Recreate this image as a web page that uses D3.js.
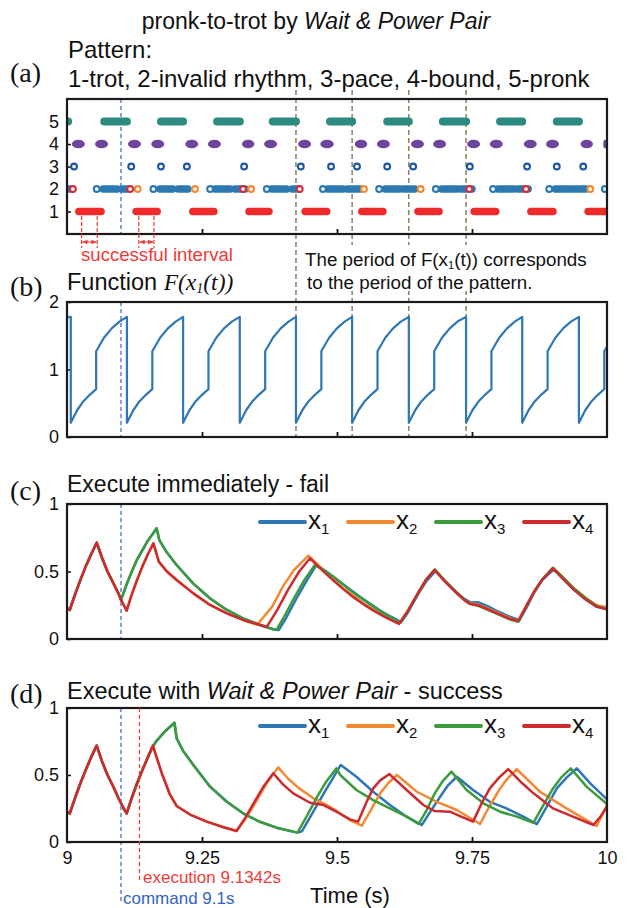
<!DOCTYPE html>
<html>
<head>
<meta charset="utf-8">
<script src="https://cdn.jsdelivr.net/npm/d3@7"></script>
<style>
  body { margin: 0; background: #fff; }
  svg { display: block; }
  text { font-family: "Liberation Sans", Arial, sans-serif; fill: #111; }
</style>
</head>
<body>
<svg id="chart" width="632" height="908"></svg>
<script>
// ---------- shared axis values ----------
const timeDomain = [9, 10];
const timeTicks = [9, 9.25, 9.5, 9.75, 10];
const timeTickLabels = ["9", "9.25", "9.5", "9.75", "10"];
const patternTicks = [1, 2, 3, 4, 5];
const functionTicks = [0, 1, 2];
const stateTicks = [0, 0.5, 1];
const stateTickLabels = ["0", "0.5", "1"];

const commandTime = 9.1;
const executionTime = 9.1342;
const patternPeriodTimes = [9.424, 9.528, 9.633, 9.739];
const successfulIntervals = [[9.027, 9.056], [9.133, 9.161]];

// ---------- (a) gait pattern ----------
const trotBars = [[9.022, 9.063], [9.128, 9.167], [9.233, 9.272], [9.337, 9.374], [9.441, 9.481],
                  [9.546, 9.585], [9.650, 9.689], [9.754, 9.794], [9.859, 9.900], [9.965, 10.0]];
const pronkBars = [[9.0, 9.002], [9.069, 9.111], [9.174, 9.215], [9.278, 9.320], [9.381, 9.424],
                   [9.487, 9.528], [9.593, 9.633], [9.696, 9.739], [9.802, 9.843], [9.907, 9.948]];
const boundBlobs = [[9.009, 9.033], [9.052, 9.076], [9.113, 9.137], [9.156, 9.180], [9.219, 9.243],
                    [9.261, 9.285], [9.324, 9.347], [9.365, 9.389], [9.428, 9.452], [9.469, 9.494],
                    [9.533, 9.556], [9.574, 9.598], [9.637, 9.661], [9.678, 9.702], [9.741, 9.765],
                    [9.783, 9.807], [9.846, 9.870], [9.887, 9.911], [9.951, 9.974], [9.993, 10.0]];
const paceMarks = [9.013, 9.119, 9.174, 9.222, 9.328, 9.433, 9.489, 9.537, 9.593, 9.641,
                   9.746, 9.852, 9.907, 9.956];
const invalidBlobs = [[9.0, 9.009], [9.067, 9.093], [9.102, 9.113], [9.172, 9.196], [9.206, 9.224],
                      [9.274, 9.302], [9.311, 9.330], [9.379, 9.407], [9.417, 9.428], [9.483, 9.511],
                      [9.519, 9.543], [9.589, 9.617], [9.624, 9.644], [9.694, 9.722], [9.729, 9.750],
                      [9.798, 9.826], [9.833, 9.854], [9.904, 9.931], [9.937, 9.961]];
const invalidBlueMarks = [9.055, 9.160, 9.265, 9.370, 9.474, 9.578, 9.683, 9.789, 9.893, 9.996];
const invalidOrangeMarks = [9.131, 9.237, 9.341, 9.550, 9.655, 9.969];
const invalidRedMarks = [9.011, 9.117, 9.326, 9.431, 9.745, 9.850];

// ---------- (b) F(x1(t)) ----------
const fDropTimes = [9.007, 9.111, 9.215, 9.320, 9.424, 9.528, 9.633, 9.739, 9.843, 9.948];
const fCyclePhase = [0, 0.012, 0.0235, 0.035, 0.047, 0.047, 0.0614, 0.0758, 0.0902];
const fCycleValue = [0.21, 0.40, 0.53, 0.625, 0.71, 1.27, 1.47, 1.61, 1.71];
const fPeakValue = 1.78;

// ---------- (c) execute immediately ----------
const immShared = [[9.000, 0.23], [9.005, 0.215], [9.015, 0.33], [9.025, 0.44], [9.035, 0.54],
                   [9.045, 0.63], [9.055, 0.713], [9.065, 0.60], [9.075, 0.50], [9.085, 0.42],
                   [9.095, 0.34], [9.100, 0.29]];
const immX1 = [[9.110, 0.40], [9.120, 0.50], [9.130, 0.59], [9.140, 0.66], [9.150, 0.73], [9.160, 0.785],
               [9.166, 0.82], [9.171, 0.733], [9.185, 0.64], [9.203, 0.548], [9.234, 0.41], [9.265, 0.30],
               [9.296, 0.215], [9.326, 0.153], [9.357, 0.104], [9.382, 0.072], [9.392, 0.066], [9.405, 0.15],
               [9.425, 0.30], [9.445, 0.44], [9.462, 0.55], [9.480, 0.50], [9.500, 0.44], [9.520, 0.38],
               [9.540, 0.32], [9.560, 0.265], [9.580, 0.21], [9.600, 0.165], [9.619, 0.125], [9.632, 0.20],
               [9.650, 0.33], [9.666, 0.43], [9.683, 0.505], [9.700, 0.43], [9.720, 0.35], [9.735, 0.30],
               [9.748, 0.27], [9.762, 0.272], [9.778, 0.245], [9.800, 0.20], [9.820, 0.165], [9.838, 0.14],
               [9.852, 0.24], [9.866, 0.35], [9.881, 0.44], [9.901, 0.515], [9.920, 0.44], [9.940, 0.36],
               [9.960, 0.295], [9.981, 0.238], [10.0, 0.222]];
const immX2 = [[9.1105, 0.21], [9.120, 0.33], [9.130, 0.44], [9.140, 0.54], [9.150, 0.63], [9.160, 0.709],
               [9.170, 0.573], [9.185, 0.50], [9.203, 0.437], [9.234, 0.338], [9.265, 0.252], [9.296, 0.19],
               [9.326, 0.141], [9.352, 0.105], [9.380, 0.24], [9.400, 0.39], [9.420, 0.51], [9.447, 0.617],
               [9.470, 0.53], [9.490, 0.45], [9.510, 0.38], [9.530, 0.32], [9.550, 0.26], [9.570, 0.21],
               [9.590, 0.165], [9.615, 0.115], [9.630, 0.20], [9.650, 0.34], [9.665, 0.44], [9.681, 0.515],
               [9.700, 0.43], [9.720, 0.35], [9.735, 0.295], [9.746, 0.265], [9.762, 0.255], [9.780, 0.225],
               [9.800, 0.19], [9.820, 0.155], [9.835, 0.135], [9.850, 0.24], [9.865, 0.35], [9.880, 0.44],
               [9.899, 0.525], [9.920, 0.45], [9.940, 0.37], [9.960, 0.305], [9.981, 0.25], [10.0, 0.235]];
const immX3 = [[9.110, 0.40], [9.120, 0.50], [9.130, 0.59], [9.140, 0.66], [9.150, 0.73], [9.160, 0.785],
               [9.166, 0.82], [9.171, 0.733], [9.185, 0.64], [9.203, 0.548], [9.234, 0.41], [9.265, 0.30],
               [9.296, 0.215], [9.326, 0.153], [9.357, 0.104], [9.382, 0.072], [9.388, 0.068], [9.400, 0.15],
               [9.420, 0.30], [9.440, 0.44], [9.459, 0.548], [9.480, 0.50], [9.500, 0.44], [9.520, 0.375],
               [9.540, 0.315], [9.560, 0.26], [9.580, 0.205], [9.600, 0.16], [9.617, 0.12], [9.630, 0.20],
               [9.650, 0.34], [9.665, 0.44], [9.681, 0.515], [9.700, 0.43], [9.720, 0.35], [9.735, 0.295],
               [9.746, 0.262], [9.762, 0.245], [9.780, 0.215], [9.800, 0.18], [9.820, 0.145], [9.836, 0.128],
               [9.850, 0.24], [9.865, 0.35], [9.880, 0.44], [9.900, 0.528], [9.920, 0.45], [9.940, 0.37],
               [9.960, 0.305], [9.981, 0.245], [10.0, 0.22]];
const immX4 = [[9.1105, 0.21], [9.120, 0.33], [9.130, 0.44], [9.140, 0.54], [9.150, 0.63], [9.160, 0.709],
               [9.170, 0.573], [9.185, 0.50], [9.203, 0.437], [9.234, 0.338], [9.265, 0.252], [9.296, 0.19],
               [9.326, 0.141], [9.357, 0.105], [9.370, 0.09], [9.390, 0.22], [9.410, 0.37], [9.430, 0.50],
               [9.450, 0.598], [9.470, 0.52], [9.490, 0.445], [9.510, 0.375], [9.530, 0.31], [9.550, 0.255],
               [9.570, 0.205], [9.590, 0.16], [9.615, 0.112], [9.630, 0.20], [9.650, 0.34], [9.665, 0.44],
               [9.681, 0.51], [9.700, 0.425], [9.720, 0.345], [9.735, 0.29], [9.746, 0.26], [9.762, 0.25],
               [9.780, 0.22], [9.800, 0.185], [9.820, 0.15], [9.836, 0.135], [9.850, 0.24], [9.865, 0.35],
               [9.880, 0.44], [9.900, 0.523], [9.920, 0.44], [9.940, 0.36], [9.960, 0.295], [9.981, 0.24],
               [10.0, 0.22]];

// ---------- (d) execute with Wait & Power Pair ----------
const waitShared = [[9.000, 0.226], [9.005, 0.212], [9.015, 0.33], [9.025, 0.44], [9.035, 0.54],
                    [9.045, 0.635], [9.055, 0.719], [9.065, 0.60], [9.075, 0.50], [9.085, 0.42],
                    [9.095, 0.33], [9.105, 0.25], [9.1105, 0.214], [9.120, 0.33], [9.130, 0.44],
                    [9.140, 0.54], [9.150, 0.635], [9.157, 0.70]];
const waitX1 = [[9.165, 0.75], [9.180, 0.82], [9.199, 0.89], [9.203, 0.774], [9.215, 0.68], [9.234, 0.575],
                [9.265, 0.413], [9.296, 0.30], [9.326, 0.214], [9.357, 0.151], [9.388, 0.107], [9.427, 0.07],
                [9.435, 0.08], [9.455, 0.22], [9.475, 0.36], [9.490, 0.46], [9.507, 0.575], [9.536, 0.487],
                [9.567, 0.375], [9.598, 0.276], [9.629, 0.189], [9.657, 0.127], [9.675, 0.24], [9.691, 0.338],
                [9.705, 0.42], [9.722, 0.487], [9.752, 0.388], [9.783, 0.30], [9.814, 0.251], [9.845, 0.189],
                [9.870, 0.134], [9.888, 0.26], [9.907, 0.40], [9.925, 0.48], [9.944, 0.55], [9.969, 0.438],
                [10.0, 0.318]];
const waitX2 = [[9.159, 0.719], [9.175, 0.52], [9.190, 0.36], [9.203, 0.269], [9.230, 0.20], [9.260, 0.15],
                [9.290, 0.11], [9.314, 0.082], [9.330, 0.17], [9.350, 0.30], [9.370, 0.44], [9.391, 0.557],
                [9.410, 0.47], [9.430, 0.40], [9.455, 0.33], [9.481, 0.276], [9.500, 0.23], [9.524, 0.164],
                [9.546, 0.122], [9.560, 0.22], [9.580, 0.363], [9.595, 0.44], [9.611, 0.50], [9.648, 0.375],
                [9.685, 0.30], [9.722, 0.239], [9.765, 0.134], [9.780, 0.25], [9.802, 0.40], [9.815, 0.47],
                [9.833, 0.543], [9.876, 0.375], [9.925, 0.251], [9.981, 0.119], [10.0, 0.276]];
const waitX3 = [[9.165, 0.75], [9.180, 0.82], [9.199, 0.89], [9.203, 0.774], [9.215, 0.68], [9.234, 0.575],
                [9.265, 0.413], [9.296, 0.30], [9.326, 0.214], [9.357, 0.151], [9.388, 0.107], [9.427, 0.07],
                [9.445, 0.20], [9.465, 0.35], [9.480, 0.45], [9.499, 0.55], [9.506, 0.50], [9.536, 0.388],
                [9.567, 0.313], [9.598, 0.251], [9.629, 0.189], [9.651, 0.134], [9.665, 0.23], [9.681, 0.363],
                [9.695, 0.45], [9.712, 0.525], [9.740, 0.388], [9.771, 0.289], [9.802, 0.226], [9.833, 0.189],
                [9.864, 0.144], [9.880, 0.26], [9.900, 0.40], [9.915, 0.48], [9.933, 0.55], [9.962, 0.413],
                [10.0, 0.284]];
const waitX4 = [[9.159, 0.719], [9.175, 0.52], [9.190, 0.36], [9.203, 0.269], [9.230, 0.20], [9.260, 0.15],
                [9.290, 0.11], [9.314, 0.082], [9.330, 0.18], [9.350, 0.32], [9.365, 0.42], [9.382, 0.513],
                [9.400, 0.43], [9.419, 0.363], [9.450, 0.293], [9.475, 0.276], [9.499, 0.226], [9.524, 0.169],
                [9.539, 0.152], [9.555, 0.30], [9.567, 0.40], [9.580, 0.46], [9.597, 0.507], [9.629, 0.388],
                [9.660, 0.276], [9.681, 0.231], [9.709, 0.226], [9.730, 0.19], [9.752, 0.152], [9.768, 0.29],
                [9.783, 0.40], [9.800, 0.48], [9.817, 0.543], [9.840, 0.45], [9.864, 0.363], [9.900, 0.251],
                [9.937, 0.189], [9.975, 0.127], [9.988, 0.19], [10.0, 0.263]];

const legendNames = ["1", "2", "3", "4"];
const legendColors = ["#2f77b4", "#f28a33", "#3c9b3c", "#cc2c30"];

// ---------- layout ----------
const svg = d3.select("#chart");
const plotLeft = 67, plotRight = 607;
const panels = {
  a: { top: 99, bottom: 234 },
  b: { top: 302, bottom: 437 },
  c: { top: 504, bottom: 639 },
  d: { top: 708, bottom: 842 }
};
const x = d3.scaleLinear().domain(timeDomain).range([plotLeft, plotRight]);
const yA = d3.scaleLinear().domain([0, 6]).range([panels.a.bottom, panels.a.top]);
const yB = d3.scaleLinear().domain([0, 2]).range([panels.b.bottom, panels.b.top]);
const yC = d3.scaleLinear().domain([0, 1]).range([panels.c.bottom, panels.c.top]);
const yD = d3.scaleLinear().domain([0, 1]).range([panels.d.bottom, panels.d.top]);

const defs = svg.append("defs");
Object.entries(panels).forEach(([k, p]) => {
  defs.append("clipPath").attr("id", "clip-" + k)
    .append("rect").attr("x", plotLeft).attr("y", p.top)
    .attr("width", plotRight - plotLeft).attr("height", p.bottom - p.top);
});
defs.append("marker").attr("id", "arrowRed").attr("viewBox", "0 0 10 10")
  .attr("refX", 9).attr("refY", 5).attr("markerWidth", 5).attr("markerHeight", 5)
  .attr("orient", "auto-start-reverse")
  .append("path").attr("d", "M0,1 L10,5 L0,9 z").attr("fill", "#f03a3a");

const fontSans = '"Liberation Sans", Arial, sans-serif';
const fontSerif = '"Liberation Serif", "Times New Roman", serif';

// ---------- headings ----------
const title = svg.append("text").attr("x", 316).attr("y", 29).attr("text-anchor", "middle")
  .style("font-size", "23px");
title.append("tspan").text("pronk-to-trot by ");
title.append("tspan").style("font-style", "italic").text("Wait & Power Pair");

function panelLabel(txt, y) {
  svg.append("text").attr("x", 10).attr("y", y).style("font-family", fontSerif)
    .style("font-size", "28px").text(txt);
}
panelLabel("(a)", 82);
panelLabel("(b)", 296);
panelLabel("(c)", 500);
panelLabel("(d)", 703);

svg.append("text").attr("x", 68).attr("y", 58).style("font-size", "24px").text("Pattern:");
svg.append("text").attr("x", 68).attr("y", 87).style("font-size", "24px")
  .text("1-trot, 2-invalid rhythm, 3-pace, 4-bound, 5-pronk");

const fnTitle = svg.append("text").attr("x", 67).attr("y", 290).style("font-size", "23.5px");
fnTitle.append("tspan").text("Function ");
fnTitle.append("tspan").style("font-family", fontSerif).style("font-style", "italic").text("F(x");
fnTitle.append("tspan").style("font-family", fontSerif).style("font-style", "italic")
  .style("font-size", "14px").attr("dy", 3).text("1");
fnTitle.append("tspan").style("font-family", fontSerif).style("font-style", "italic")
  .attr("dy", -3).text("(t))");

svg.append("text").attr("x", 67).attr("y", 492).style("font-size", "23px")
  .text("Execute immediately - fail");
const dTitle = svg.append("text").attr("x", 67).attr("y", 699).style("font-size", "23.5px");
dTitle.append("tspan").text("Execute with ");
dTitle.append("tspan").style("font-style", "italic").text("Wait & Power Pair");
dTitle.append("tspan").text(" - success");

// ---------- guide lines spanning (a) and (b) ----------
const guides = svg.append("g");
guides.selectAll("line.period").data(patternPeriodTimes).join("line")
  .attr("x1", d => x(d)).attr("x2", d => x(d))
  .attr("y1", 90).attr("y2", panels.b.bottom)
  .attr("stroke", "#7d7b52").attr("stroke-width", 1.4).attr("stroke-dasharray", "5,3");

// note with a white backing so the guide lines break around it
svg.append("rect").attr("x", 300).attr("y", 245).attr("width", 294).attr("height", 46).attr("fill", "#fff");
const note1 = svg.append("text").attr("x", 305).attr("y", 266).style("font-size", "18.8px");
note1.append("tspan").text("The period of F(x");
note1.append("tspan").style("font-size", "11px").attr("dy", 3).text("1");
note1.append("tspan").attr("dy", -3).text("(t)) corresponds");
svg.append("text").attr("x", 307).attr("y", 289).style("font-size", "18.8px")
  .text("to the period of the pattern.");

// ---------- axes / frames ----------
function frame(p, yScale, ticks, labels, showX) {
  const g = svg.append("g");
  const ax = d3.axisLeft(yScale).tickValues(ticks).tickSize(-4).tickPadding(8)
    .tickFormat((d, i) => labels ? labels[i] : d);
  const ga = g.append("g").attr("transform", `translate(${plotLeft},0)`).call(ax);
  ga.select(".domain").remove();
  ga.selectAll(".tick line").attr("stroke", "#111").attr("stroke-width", 1.5);
  ga.selectAll("text").style("font-size", "18px").style("font-family", fontSans).attr("fill", "#111");
  const bx = d3.axisBottom(x).tickValues(timeTicks.slice(1, -1)).tickSize(-5)
    .tickFormat("");
  const gb = g.append("g").attr("transform", `translate(0,${p.bottom})`).call(bx);
  gb.select(".domain").remove();
  gb.selectAll(".tick line").attr("stroke", "#111").attr("stroke-width", 1.8);
  if (showX) {
    const lx = d3.axisBottom(x).tickValues(timeTicks).tickSize(0).tickPadding(9)
      .tickFormat((d, i) => timeTickLabels[i]);
    const gl = g.append("g").attr("transform", `translate(0,${p.bottom})`).call(lx);
    gl.select(".domain").remove();
    gl.selectAll("text").style("font-size", "18px").style("font-family", fontSans).attr("fill", "#111");
  }
  return g;
}
function box(p) {
  svg.append("rect").attr("x", plotLeft).attr("y", p.top)
    .attr("width", plotRight - plotLeft).attr("height", p.bottom - p.top)
    .attr("fill", "none").attr("stroke", "#1a1a1a").attr("stroke-width", 2.2);
}

function commandLine(p, extra) {
  svg.append("line").attr("x1", x(commandTime)).attr("x2", x(commandTime))
    .attr("y1", p.top).attr("y2", p.bottom + (extra || 0))
    .attr("stroke", "#3563c4").attr("stroke-width", 1.2).attr("stroke-dasharray", "4,3");
}

// ---------- (a) pattern marks ----------
frame(panels.a, yA, patternTicks, null, false);
commandLine(panels.a);
const gA = svg.append("g").attr("clip-path", "url(#clip-a)");
function bars(data, level, color, h) {
  gA.append("g").selectAll("rect").data(data).join("rect")
    .attr("x", d => x(d[0]) - h / 2).attr("width", d => x(d[1]) - x(d[0]) + h)
    .attr("y", yA(level) - h / 2).attr("height", h).attr("rx", h / 2).attr("fill", color);
}
bars(trotBars, 1, "#ee2a2a", 7.5);
bars(pronkBars, 5, "#2c8a80", 8);
gA.append("g").selectAll("ellipse").data(boundBlobs).join("ellipse")
  .attr("cx", d => (x(d[0]) + x(d[1])) / 2).attr("cy", yA(4))
  .attr("rx", d => (x(d[1]) - x(d[0])) / 2).attr("ry", 4.3).attr("fill", "#6c469c");
bars(invalidBlobs, 2, "#2c78b0", 7.5);
function rings(data, level, color) {
  gA.append("g").selectAll("circle").data(data).join("circle")
    .attr("cx", d => x(d)).attr("cy", yA(level)).attr("r", 2.9)
    .attr("fill", "#fff").attr("stroke", color).attr("stroke-width", 2.1);
}
rings(paceMarks, 3, "#1f55a5");
rings(invalidBlueMarks, 2, "#2c78b0");
rings(invalidOrangeMarks, 2, "#f28a33");
rings(invalidRedMarks, 2, "#d0303e");
box(panels.a);

// successful interval markers
const si = svg.append("g");
successfulIntervals.forEach(([t0, t1]) => {
  [t0, t1].forEach(t => si.append("line").attr("x1", x(t)).attr("x2", x(t))
    .attr("y1", 216).attr("y2", 248).attr("stroke", "#f03a3a").attr("stroke-width", 1.2)
    .attr("stroke-dasharray", "4,2"));
  si.append("line").attr("x1", x(t0) + 1).attr("x2", x(t1) - 1).attr("y1", 242).attr("y2", 242)
    .attr("stroke", "#f03a3a").attr("stroke-width", 1.1)
    .attr("marker-start", "url(#arrowRed)").attr("marker-end", "url(#arrowRed)");
});
svg.append("text").attr("x", 81).attr("y", 261).style("font-size", "18.6px")
  .style("fill", "#f03a3a").text("successful interval");

// ---------- (b) F(x1(t)) ----------
frame(panels.b, yB, functionTicks, null, false);
commandLine(panels.b);
const fPoints = [[timeDomain[0], 1.77]];
fDropTimes.forEach((t0, i) => {
  const next = i + 1 < fDropTimes.length ? fDropTimes[i + 1] : t0 + (t0 - fDropTimes[i - 1]);
  fPoints.push([t0, fPeakValue]);
  fCyclePhase.forEach((ph, j) => fPoints.push([t0 + ph, fCycleValue[j]]));
  fPoints.push([next, fPeakValue]);
});
const fLine = d3.line().x(d => x(d[0])).y(d => yB(d[1]));
svg.append("path").attr("clip-path", "url(#clip-b)").datum(fPoints).attr("d", fLine)
  .attr("fill", "none").attr("stroke", "#2f77b4").attr("stroke-width", 2.2)
  .attr("stroke-linejoin", "round");
box(panels.b);

// ---------- state curves ----------
function statePanel(p, yScale, series, key, extraCmd) {
  frame(p, yScale, stateTicks, stateTickLabels, key === "d");
  commandLine(p, extraCmd);
  const line = d3.line().x(d => x(d[0])).y(d => yScale(d[1]));
  const g = svg.append("g").attr("clip-path", `url(#clip-${key})`);
  series.forEach((s, i) => {
    g.append("path").datum(s).attr("d", line).attr("fill", "none")
      .attr("stroke", legendColors[i]).attr("stroke-width", 2.5)
      .attr("stroke-linejoin", "round").attr("stroke-linecap", "round");
  });
  // legend
  const ly = p.top + 18;
  const lg = svg.append("g");
  legendNames.forEach((n, i) => {
    const lx = 260 + i * 88;
    lg.append("line").attr("x1", lx).attr("x2", lx + 45).attr("y1", ly).attr("y2", ly)
      .attr("stroke", legendColors[i]).attr("stroke-width", 4).attr("stroke-linecap", "round");
    const t = lg.append("text").attr("x", lx + 48).attr("y", ly + 7).style("font-size", "26px");
    t.append("tspan").text("x");
    t.append("tspan").style("font-size", "15px").attr("dy", 5).text(n);
  });
  box(p);
}
statePanel(panels.c, yC, [immShared.concat(immX1), immShared.concat([[9.1105, 0.21]], immX2.slice(1)),
  immShared.concat(immX3), immShared.concat([[9.1105, 0.21]], immX4.slice(1))], "c", 0);
statePanel(panels.d, yD, [waitShared.concat(waitX1), waitShared.concat(waitX2),
  waitShared.concat(waitX3), waitShared.concat(waitX4)], "d", 60);

// execution marker (d)
svg.append("line").attr("x1", x(executionTime)).attr("x2", x(executionTime))
  .attr("y1", panels.d.top).attr("y2", 882)
  .attr("stroke", "#f03a3a").attr("stroke-width", 1.2).attr("stroke-dasharray", "4,3");
svg.append("text").attr("x", 143).attr("y", 883).style("font-size", "17px").style("fill", "#f03a3a")
  .text("execution 9.1342s");
svg.append("text").attr("x", 123).attr("y", 903.5).style("font-size", "17px").style("fill", "#3563c4")
  .text("command 9.1s");
svg.append("text").attr("x", 350).attr("y", 903).attr("text-anchor", "middle").style("font-size", "22px")
  .text("Time (s)");
</script>
</body>
</html>
